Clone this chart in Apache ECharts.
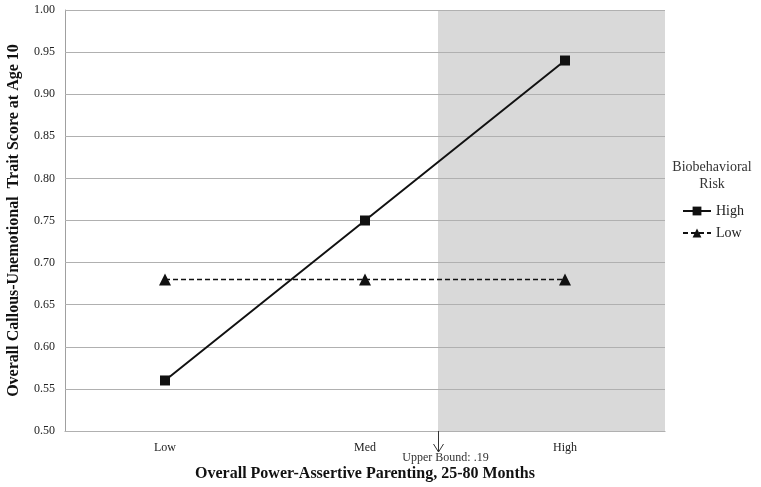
<!DOCTYPE html>
<html><head><meta charset="utf-8">
<script src="https://cdn.jsdelivr.net/npm/echarts@6/dist/echarts.min.js"></script>
<style>html,body{margin:0;padding:0;background:#fff}#c{width:761px;height:487px}</style>
</head><body><div id="c"></div>
<script>
var categories = ['Low', 'Med', 'High'];
var highRisk = [0.56, 0.75, 0.94];
var lowRisk = [0.68, 0.68, 0.68];
var yTicks = [0.50, 0.55, 0.60, 0.65, 0.70, 0.75, 0.80, 0.85, 0.90, 0.95, 1.00];
var upperBoundPos = 1.365; // position on category scale (0=Low,1=Med,2=High)
var upperBoundLabel = 'Upper Bound: .19';

var serif = '"Liberation Serif", "Times New Roman", serif';
var chart = echarts.init(document.getElementById('c'));
var yMin = yTicks[0], yMax = yTicks[yTicks.length - 1];
var legendTitle = {
  type: 'text', left: 665, top: 159,
  style: {text: 'Biobehavioral\nRisk', fill: '#333', font: '14px ' + serif, textAlign: 'center', lineHeight: 17, width: 94}
};
chart.setOption({
  animation: false,
  grid: {left: 65, right: 96, top: 10, bottom: 56, outerBoundsMode: 'none', containLabel: false},
  xAxis: [{
    type: 'category', data: categories, boundaryGap: true,
    axisLine: {lineStyle: {color: '#a0a0a0'}}, axisTick: {show: false},
    axisLabel: {color: '#222', fontFamily: serif, fontSize: 12, margin: 11},
    name: 'Overall Power-Assertive Parenting, 25-80 Months', nameLocation: 'middle', nameGap: 35,
    nameTextStyle: {fontFamily: serif, fontWeight: 'bold', fontSize: 16, color: '#111'}
  }, {
    type: 'value', min: -0.5, max: 2.5, show: false
  }],
  yAxis: [{
    type: 'value', min: yMin, max: yMax, interval: 0.05,
    axisLine: {show: true, onZero: false, lineStyle: {color: '#a0a0a0'}}, axisTick: {show: false},
    axisLabel: {color: '#222', fontFamily: serif, fontSize: 12, margin: 10, formatter: function (v) { return v.toFixed(2); }},
    splitLine: {show: false},
    name: 'Overall Callous-Unemotional  Trait Score at Age 10', nameLocation: 'middle', nameGap: 43,
    nameTextStyle: {fontFamily: serif, fontWeight: 'bold', fontSize: 16, color: '#111'}
  }, {
    type: 'value', min: yMin, max: yMax, interval: 0.05, position: 'left', z: 5,
    axisLine: {show: false, onZero: false}, axisTick: {show: false}, axisLabel: {show: false},
    splitLine: {show: true, lineStyle: {color: '#b0b0b0', width: 1}}
  }],
  legend: {
    orient: 'vertical', left: 677, top: 199, itemGap: 8, itemWidth: 28, itemHeight: 11,
    textStyle: {fontFamily: serif, fontSize: 14, color: '#222'},
    data: ['High', 'Low']
  },
  series: [{
    type: 'line', xAxisIndex: 1, yAxisIndex: 0, data: [], silent: true, z: 1,
    markArea: {silent: true, itemStyle: {color: '#d9d9d9'}, data: [[{xAxis: upperBoundPos}, {xAxis: 2.5}]]}
  }, {
    name: 'High', type: 'line', data: highRisk, z: 7,
    symbol: 'rect', symbolSize: 10,
    lineStyle: {color: '#111', width: 2}, itemStyle: {color: '#111'}
  }, {
    name: 'Low', type: 'line', data: lowRisk, z: 7,
    symbol: 'triangle', symbolSize: 12,
    lineStyle: {color: '#111', width: 1.5, type: [5, 3]}, itemStyle: {color: '#111'}
  }]
});

// Upper-bound arrow, positioned through the chart's own scale
var p = chart.convertToPixel({xAxisIndex: 1, yAxisIndex: 0}, [upperBoundPos, yMin]);
var x0 = Math.round(p[0]) + 0.5, y0 = p[1];
chart.setOption({
  graphic: [legendTitle, {
    type: 'line', z: 10, shape: {x1: x0, y1: y0, x2: x0, y2: y0 + 21}, style: {stroke: '#333', lineWidth: 1}
  }, {
    type: 'polyline', z: 10, shape: {points: [[x0 - 5, y0 + 13], [x0, y0 + 21], [x0 + 5, y0 + 13]]}, style: {stroke: '#333', lineWidth: 1, fill: null}
  }, {
    type: 'text', z: 10, x: x0 + 7, y: y0 + 21,
    style: {text: upperBoundLabel, fill: '#333', font: '12px ' + serif, textAlign: 'center'}
  }]
});
</script></body></html>
